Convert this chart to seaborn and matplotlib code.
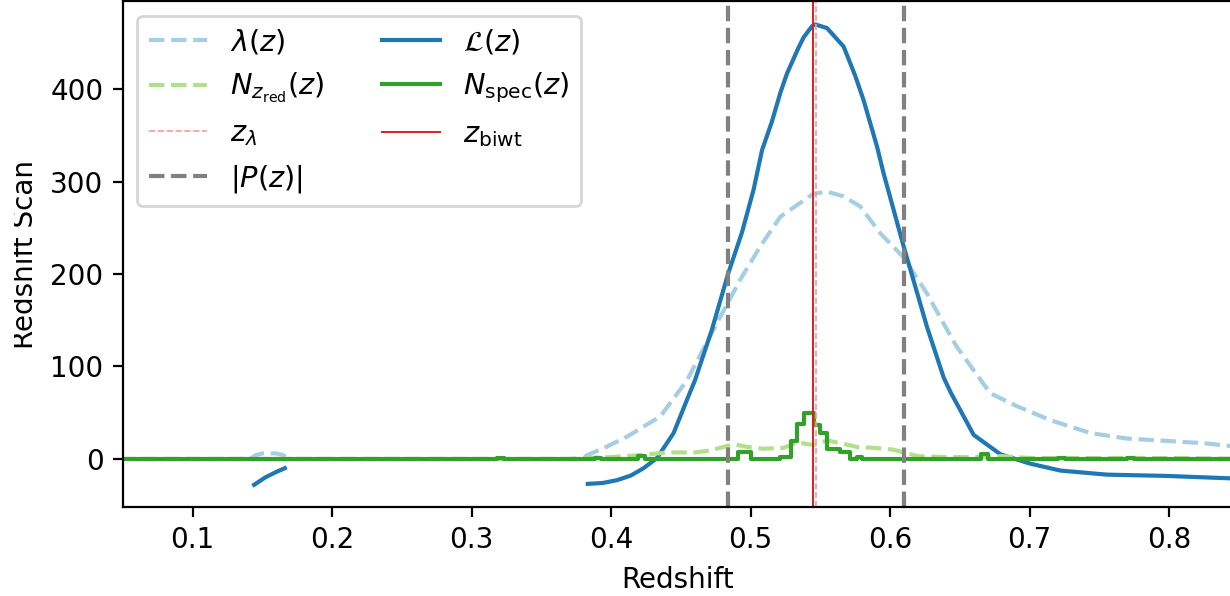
import numpy as np
import pandas as pd
import matplotlib
matplotlib.use("Agg")
import matplotlib.pyplot as plt
from matplotlib.lines import Line2D
from matplotlib.transforms import Bbox, TransformedBbox
import seaborn as sns

# ---------------- data ----------------
# likelihood L(z): two pieces
L_z1 = [0.144, 0.152, 0.160, 0.166]
L_v1 = [-28, -20, -14, -10]
L_z2 = [0.3832, 0.3940, 0.4041, 0.4140, 0.4232, 0.4328, 0.4447, 0.4543, 0.4600,
        0.4722, 0.4837, 0.4937, 0.5020, 0.5081, 0.5152, 0.5212, 0.5260, 0.5343,
        0.5379, 0.5439, 0.5463, 0.5547, 0.5666, 0.5750, 0.5809, 0.5905, 0.5952,
        0.6096, 0.6263, 0.6383, 0.6433, 0.6598, 0.6790, 0.7000, 0.7220, 0.7554,
        0.7984, 0.8438, 0.8600]
L_v2 = [-27, -26, -23, -18, -10, 1, 28, 64, 85,
        140, 200, 245, 291, 334, 365, 396, 417, 445,
        456, 468, 470, 466, 446, 414, 388, 338, 309,
        230, 143, 88, 72, 26, 5, -5, -12.6, -17,
        -18.4, -21, -22]

# richness lambda(z): two pieces
lam_z1 = [0.141, 0.145, 0.150, 0.160, 0.165, 0.169]
lam_v1 = [0, 4, 6, 6, 4, 0]
lam_z2 = [0.381, 0.3826, 0.395, 0.4113, 0.4352, 0.4543, 0.4758, 0.4925, 0.5069,
          0.5212, 0.5355, 0.5451, 0.5547, 0.5666, 0.5785, 0.5929, 0.6096, 0.6263,
          0.6406, 0.6478, 0.6717, 0.6909, 0.7147, 0.7434, 0.7697, 0.7984, 0.8246,
          0.8438, 0.8600]
lam_v2 = [2, 4, 12, 24, 46, 85, 147, 194, 230,
          262, 277, 287, 289, 284, 273, 244, 218, 179,
          140, 121, 71, 57, 42, 28, 22, 19.5, 17,
          14, 13]

# red-sequence counts N_zred(z)
nz_z = [0.00, 0.37, 0.38, 0.40, 0.42, 0.44, 0.46, 0.47, 0.4782, 0.4877, 0.4973,
        0.5092, 0.5236, 0.5332, 0.5451, 0.5547, 0.5642, 0.5762, 0.5881, 0.6024,
        0.612, 0.62, 0.64, 0.66, 0.68, 0.70, 0.75, 0.80, 0.86]
nz_v = [0, 0, 1, 2, 4, 7, 7, 9, 12, 16, 13,
        11, 12, 18, 15, 20, 17, 13, 12, 10,
        6, 3, 2, 2, 3, 1, 1, 1, 0]

# spectroscopic counts N_spec(z) (step edges)
ns_z = [0.00, 0.3180, 0.3230, 0.3880, 0.3930, 0.4195, 0.4245, 0.4910, 0.5000,
        0.5210, 0.5285, 0.5335, 0.5385, 0.5450, 0.5500, 0.5547, 0.5642, 0.5714,
        0.5762, 0.5800, 0.6650, 0.6700, 0.7200, 0.7250, 0.7700, 0.7750, 0.90]
ns_v = [0, 1.5, 0, 1, 0, 3, 0, 7, 0,
        2, 19, 38, 50, 37, 28, 11, 8, 0,
        2, 0, 5, 0, 1, 0, 1, 0, 0]

z_lambda = 0.5468
z_biwt = 0.5443
pz_bounds = [0.4837, 0.6100]

# ---------------- style ----------------
plt.rcParams.update({
    "font.size": 10,
    "axes.labelsize": 10,
    "xtick.labelsize": 10,
    "ytick.labelsize": 10,
    "legend.fontsize": 10,
})

C_LAM, C_L, C_NZ, C_NS, C_ZL, C_ZB = sns.color_palette("Paired", 6)

fig = plt.figure(figsize=(6.15, 2.98), dpi=200)
ax = fig.add_axes([123 / 1230, (596 - 507) / 596, (1233 - 123) / 1230, (507 - 1.3) / 596])

def line(x, y, **kw):
    df = pd.DataFrame({"z": x, "v": y})
    sns.lineplot(data=df, x="z", y="v", ax=ax, estimator=None, sort=False, legend=False, **kw)

line(lam_z1, lam_v1, color=C_LAM, linestyle="--", linewidth=1.5)
line(lam_z2, lam_v2, color=C_LAM, linestyle="--", linewidth=1.5)
line(L_z1, L_v1, color=C_L, linewidth=1.5)
line(L_z2, L_v2, color=C_L, linewidth=1.5)
line(nz_z, nz_v, color=C_NZ, linestyle="--", linewidth=1.5)
line(ns_z, ns_v, color=C_NS, linewidth=1.5, drawstyle="steps-post")

ax.axvline(z_lambda, color=C_ZL, linestyle="--", linewidth=0.6)
ax.axvline(z_biwt, color=C_ZB, linewidth=0.7)
for b in pz_bounds:
    ax.axvline(b, color="gray", linestyle="--", linewidth=1.5)

handles = [
    Line2D([], [], color=C_LAM, linestyle="--", linewidth=1.5),
    Line2D([], [], color=C_NZ, linestyle="--", linewidth=1.5),
    Line2D([], [], color=C_ZL, linestyle="--", linewidth=0.6),
    Line2D([], [], color="gray", linestyle="--", linewidth=1.5),
    Line2D([], [], color=C_L, linewidth=1.5),
    Line2D([], [], color=C_NS, linewidth=1.5),
    Line2D([], [], color=C_ZB, linewidth=0.7),
]
labels = [r"$\lambda(z)$", r"$N_{z_{\rm red}}(z)$", r"$z_{\lambda}$", r"$|P(z)|$",
          r"$\mathcal{L}(z)$", r"$N_{\rm spec}(z)$", r"$z_{\rm biwt}$"]
ax.legend(handles, labels, loc="upper left", ncol=2, prop={"size": 10.4})

ax.set_xlim(0.05, 0.8457)
ax.set_ylim(-52, 495)
ax.set_xticks([0.1, 0.2, 0.3, 0.4, 0.5, 0.6, 0.7, 0.8])
ax.set_yticks([0, 100, 200, 300, 400])
ax.set_xlabel("Redshift")
ax.set_ylabel("Redshift Scan")

# the reference shows the y label cut at the left edge of the picture
clip = TransformedBbox(Bbox([[14 / 1230, 0], [1, 1]]), fig.transFigure)
ax.yaxis.label.set_clip_box(clip)
ax.yaxis.label.set_clip_on(True)

fig.savefig("out.png", dpi=200)
